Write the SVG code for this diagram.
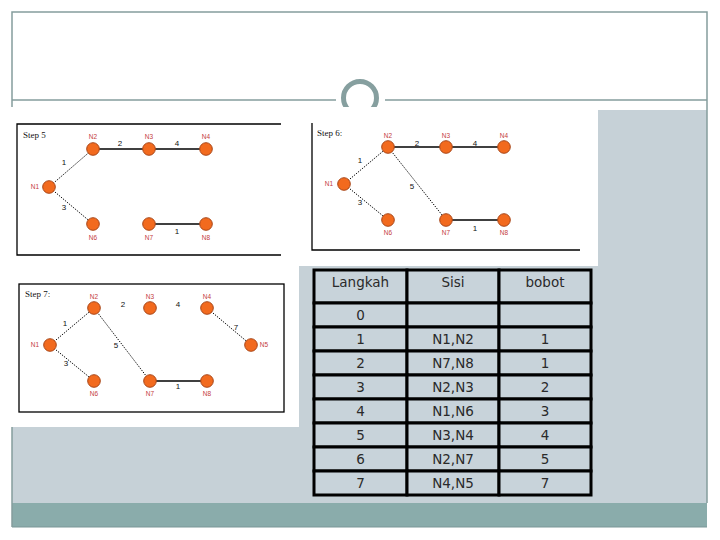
<svg xmlns="http://www.w3.org/2000/svg" width="720" height="540" viewBox="0 0 720 540">
<style>
.frame{stroke:#859d9d;stroke-width:1.5;fill:none}
.gframe{stroke:#000;stroke-width:1.3;fill:none}
.node{fill:#f26a1e;stroke:#a8471a;stroke-width:1}
.nl{font-family:"Liberation Sans",Arial,sans-serif;font-size:6.5px;fill:#c4403a;text-anchor:middle}
.el{font-family:"Liberation Sans",Arial,sans-serif;font-size:8px;fill:#111;text-anchor:middle}
.st{font-family:"Liberation Serif","Times New Roman",serif;font-size:9px;fill:#111}
.solid{stroke:#000;stroke-width:1.3;fill:none}
.dot{stroke:#000;stroke-width:1;stroke-dasharray:1.3 1.3;fill:none}
.cell{fill:#c8d3da;stroke:#000;stroke-width:3}
.tt{font-family:"DejaVu Sans",Verdana,sans-serif;font-size:13.5px;fill:#2a2a2a;text-anchor:middle}
</style>
<rect width="720" height="540" fill="#fff"/>
<!-- slide body -->
<rect x="12" y="110" width="695" height="393" fill="#c6d1d7"/>
<rect x="12" y="503" width="695" height="24" fill="#8aacab"/>
<line x1="12" y1="527" x2="707" y2="527" stroke="#7a9797" stroke-width="1"/>
<!-- top frame -->
<path class="frame" d="M12,107 V12 H707 V503"/>
<line class="frame" x1="12" y1="427" x2="12" y2="527"/>
<line class="frame" x1="12" y1="100" x2="336" y2="100"/>
<line class="frame" x1="385" y1="100" x2="707" y2="100"/>
<circle cx="360" cy="98" r="16.5" fill="#fff" stroke="#869f9f" stroke-width="5"/>
<!-- white image areas -->
<rect x="12" y="107" width="288" height="159" fill="#fff"/>
<rect x="300" y="107" width="298" height="159" fill="#fff"/>
<rect x="12" y="266" width="287" height="161" fill="#fff"/>

<!-- Step 5 -->
<g id="step5">
<path class="gframe" d="M281,124 H17 V255 H281"/>
<text class="st" x="23" y="138">Step 5</text>
<g id="s5-connectors">
<line class="dot" x1="49" y1="187" x2="93" y2="149"/>
<line class="dot" x1="49" y1="187" x2="93" y2="224"/>
<line class="solid" x1="93" y1="149" x2="149" y2="149"/>
<line class="solid" x1="149" y1="149" x2="206" y2="149"/>
<line class="solid" x1="149" y1="224" x2="206" y2="224"/>
<text class="el" x="64" y="165">1</text>
<text class="el" x="64" y="210">3</text>
<text class="el" x="120" y="146">2</text>
<text class="el" x="177" y="146">4</text>
<text class="el" x="177" y="234">1</text>
</g>
<g id="s5-n1"><circle class="node" cx="49" cy="187" r="6.3"/><text class="nl" x="35" y="189">N1</text></g>
<g id="s5-n2"><circle class="node" cx="93" cy="149" r="6.3"/><text class="nl" x="93" y="139">N2</text></g>
<g id="s5-n3"><circle class="node" cx="149" cy="149" r="6.3"/><text class="nl" x="149" y="139">N3</text></g>
<g id="s5-n4"><circle class="node" cx="206" cy="149" r="6.3"/><text class="nl" x="206" y="139">N4</text></g>
<g id="s5-n6"><circle class="node" cx="93" cy="224" r="6.3"/><text class="nl" x="93" y="240">N6</text></g>
<g id="s5-n7"><circle class="node" cx="149" cy="224" r="6.3"/><text class="nl" x="149" y="240">N7</text></g>
<g id="s5-n8"><circle class="node" cx="206" cy="224" r="6.3"/><text class="nl" x="206" y="240">N8</text></g>
</g>

<!-- Step 6 -->
<g id="step6">
<path class="gframe" d="M312,123 V250 H580"/>
<text class="st" x="317" y="136">Step 6:</text>
<g id="s6-connectors">
<line class="dot" x1="344" y1="184" x2="388" y2="147"/>
<line class="dot" x1="344" y1="184" x2="388" y2="220"/>
<line class="dot" x1="388" y1="147" x2="446" y2="220"/>
<line class="solid" x1="388" y1="147" x2="446" y2="147"/>
<line class="solid" x1="446" y1="147" x2="504" y2="147"/>
<line class="solid" x1="446" y1="220" x2="504" y2="220"/>
<text class="el" x="360" y="163">1</text>
<text class="el" x="360" y="205">3</text>
<text class="el" x="417" y="146">2</text>
<text class="el" x="475" y="146">4</text>
<text class="el" x="412" y="189">5</text>
<text class="el" x="475" y="231">1</text>
</g>
<g id="s6-n1"><circle class="node" cx="344" cy="184" r="6.3"/><text class="nl" x="329" y="186">N1</text></g>
<g id="s6-n2"><circle class="node" cx="388" cy="147" r="6.3"/><text class="nl" x="388" y="138">N2</text></g>
<g id="s6-n3"><circle class="node" cx="446" cy="147" r="6.3"/><text class="nl" x="446" y="138">N3</text></g>
<g id="s6-n4"><circle class="node" cx="504" cy="147" r="6.3"/><text class="nl" x="504" y="138">N4</text></g>
<g id="s6-n6"><circle class="node" cx="388" cy="220" r="6.3"/><text class="nl" x="388" y="235">N6</text></g>
<g id="s6-n7"><circle class="node" cx="446" cy="220" r="6.3"/><text class="nl" x="446" y="235">N7</text></g>
<g id="s6-n8"><circle class="node" cx="504" cy="220" r="6.3"/><text class="nl" x="504" y="235">N8</text></g>
</g>

<!-- Step 7 -->
<g id="step7">
<rect class="gframe" x="19" y="284" width="265" height="128"/>
<text class="st" x="25" y="297">Step 7:</text>
<g id="s7-connectors">
<line class="dot" x1="50" y1="345" x2="94" y2="308"/>
<line class="dot" x1="50" y1="345" x2="94" y2="381"/>
<line class="dot" x1="94" y1="308" x2="150" y2="381"/>
<line class="dot" x1="207" y1="308" x2="251" y2="345"/>
<line class="solid" x1="150" y1="381" x2="207" y2="381"/>
<text class="el" x="65" y="326">1</text>
<text class="el" x="66" y="366">3</text>
<text class="el" x="123" y="307">2</text>
<text class="el" x="178" y="307">4</text>
<text class="el" x="116" y="348">5</text>
<text class="el" x="236" y="330">7</text>
<text class="el" x="178" y="389">1</text>
</g>
<g id="s7-n1"><circle class="node" cx="50" cy="345" r="6.3"/><text class="nl" x="35" y="347">N1</text></g>
<g id="s7-n2"><circle class="node" cx="94" cy="308" r="6.3"/><text class="nl" x="94" y="299">N2</text></g>
<g id="s7-n3"><circle class="node" cx="150" cy="308" r="6.3"/><text class="nl" x="150" y="299">N3</text></g>
<g id="s7-n4"><circle class="node" cx="207" cy="308" r="6.3"/><text class="nl" x="207" y="299">N4</text></g>
<g id="s7-n5"><circle class="node" cx="251" cy="345" r="6.3"/><text class="nl" x="264" y="347">N5</text></g>
<g id="s7-n6"><circle class="node" cx="94" cy="381" r="6.3"/><text class="nl" x="94" y="396">N6</text></g>
<g id="s7-n7"><circle class="node" cx="150" cy="381" r="6.3"/><text class="nl" x="150" y="396">N7</text></g>
<g id="s7-n8"><circle class="node" cx="207" cy="381" r="6.3"/><text class="nl" x="207" y="396">N8</text></g>
</g>

<!-- Table -->
<g id="table">
<rect class="cell" x="314" y="270" width="93" height="33"/>
<rect class="cell" x="407" y="270" width="92" height="33"/>
<rect class="cell" x="499" y="270" width="92" height="33"/>
<rect class="cell" x="314" y="303" width="93" height="24"/>
<rect class="cell" x="407" y="303" width="92" height="24"/>
<rect class="cell" x="499" y="303" width="92" height="24"/>
<rect class="cell" x="314" y="327" width="93" height="24"/>
<rect class="cell" x="407" y="327" width="92" height="24"/>
<rect class="cell" x="499" y="327" width="92" height="24"/>
<rect class="cell" x="314" y="351" width="93" height="24"/>
<rect class="cell" x="407" y="351" width="92" height="24"/>
<rect class="cell" x="499" y="351" width="92" height="24"/>
<rect class="cell" x="314" y="375" width="93" height="24"/>
<rect class="cell" x="407" y="375" width="92" height="24"/>
<rect class="cell" x="499" y="375" width="92" height="24"/>
<rect class="cell" x="314" y="399" width="93" height="24"/>
<rect class="cell" x="407" y="399" width="92" height="24"/>
<rect class="cell" x="499" y="399" width="92" height="24"/>
<rect class="cell" x="314" y="423" width="93" height="24"/>
<rect class="cell" x="407" y="423" width="92" height="24"/>
<rect class="cell" x="499" y="423" width="92" height="24"/>
<rect class="cell" x="314" y="447" width="93" height="24"/>
<rect class="cell" x="407" y="447" width="92" height="24"/>
<rect class="cell" x="499" y="447" width="92" height="24"/>
<rect class="cell" x="314" y="471" width="93" height="24"/>
<rect class="cell" x="407" y="471" width="92" height="24"/>
<rect class="cell" x="499" y="471" width="92" height="24"/>
<text class="tt" x="360.5" y="287">Langkah</text>
<text class="tt" x="453" y="287">Sisi</text>
<text class="tt" x="545" y="287">bobot</text>
<text class="tt" x="360.5" y="320">0</text>
<text class="tt" x="360.5" y="344">1</text><text class="tt" x="453" y="344">N1,N2</text><text class="tt" x="545" y="344">1</text>
<text class="tt" x="360.5" y="368">2</text><text class="tt" x="453" y="368">N7,N8</text><text class="tt" x="545" y="368">1</text>
<text class="tt" x="360.5" y="392">3</text><text class="tt" x="453" y="392">N2,N3</text><text class="tt" x="545" y="392">2</text>
<text class="tt" x="360.5" y="416">4</text><text class="tt" x="453" y="416">N1,N6</text><text class="tt" x="545" y="416">3</text>
<text class="tt" x="360.5" y="440">5</text><text class="tt" x="453" y="440">N3,N4</text><text class="tt" x="545" y="440">4</text>
<text class="tt" x="360.5" y="464">6</text><text class="tt" x="453" y="464">N2,N7</text><text class="tt" x="545" y="464">5</text>
<text class="tt" x="360.5" y="488">7</text><text class="tt" x="453" y="488">N4,N5</text><text class="tt" x="545" y="488">7</text>
</g>
</svg>
